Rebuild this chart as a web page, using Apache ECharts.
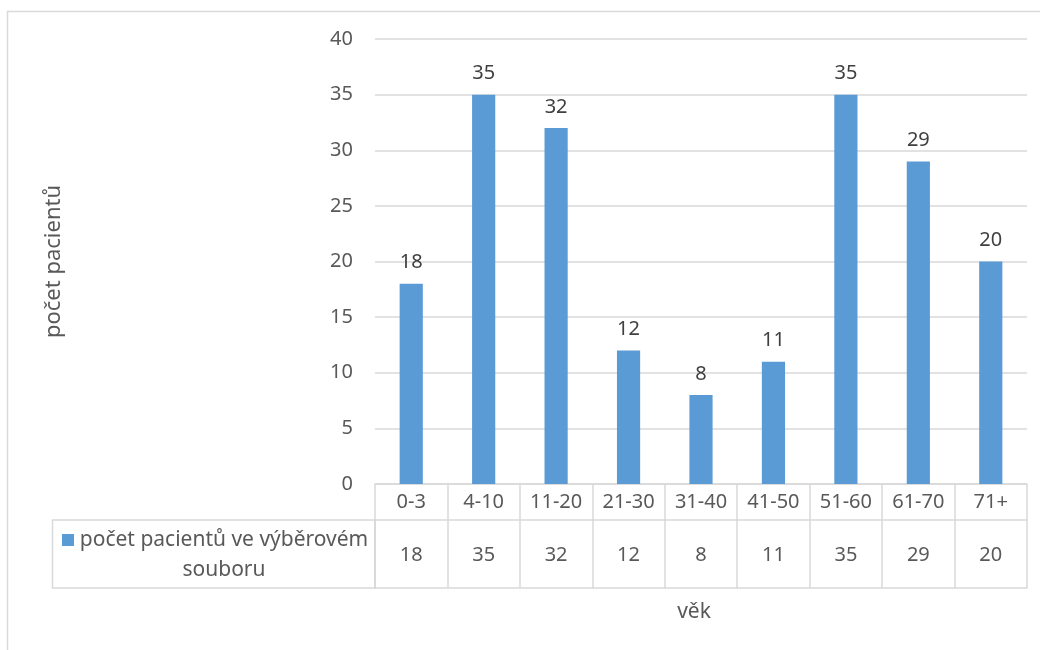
<!DOCTYPE html>
<html>
<head>
<meta charset="utf-8">
<script src="https://cdn.jsdelivr.net/npm/echarts@6/dist/echarts.min.js"></script>
<style>
  html, body { margin: 0; padding: 0; background: #fff; }
  #chart { width: 1040px; height: 650px; }
</style>
</head>
<body>
<div id="chart"></div>
<script>
var categories = ['0-3', '4-10', '11-20', '21-30', '31-40', '41-50', '51-60', '61-70', '71+'];
var counts = [18, 35, 32, 12, 8, 11, 35, 29, 20];
var seriesName = 'počet pacientů ve výběrovém souboru';
var yTicks = { min: 0, max: 40, step: 5 };

var font = 'Noto Sans';
var textColor = '#595959';
var lineColor = '#d9d9d9';
var barColor = '#5b9bd5';

var myChart = echarts.init(document.getElementById('chart'));
myChart.setOption({
    animation: false,
    grid: { left: 375, right: 13, top: 39, bottom: 166 },
    xAxis: [
        {
            // header row of the data table
            type: 'category',
            data: categories,
            axisLine: { lineStyle: { color: lineColor, width: 1.5 } },
            axisTick: { show: true, length: 104, interval: 0, lineStyle: { color: lineColor, width: 1.5 } },
            axisLabel: { interval: 0, margin: 18, verticalAlign: 'middle', color: textColor, fontFamily: font, fontSize: 20 }
        },
        {
            // value row of the data table
            type: 'category',
            data: categories,
            position: 'bottom',
            offset: 36,
            axisLine: { show: true, lineStyle: { color: lineColor, width: 1.5 } },
            axisTick: { show: false },
            axisLabel: {
                interval: 0, margin: 35, verticalAlign: 'middle', color: textColor, fontFamily: font, fontSize: 20,
                formatter: function (v, i) { return String(counts[i]); }
            }
        },
        {
            type: 'category',
            data: categories,
            position: 'bottom',
            offset: 104,
            name: 'věk',
            nameLocation: 'middle',
            nameGap: 14,
            nameTextStyle: { color: textColor, fontFamily: font, fontSize: 21, padding: [0, 14, 0, 0] },
            axisLine: { show: true, lineStyle: { color: lineColor, width: 1.5 } },
            axisTick: { show: false },
            axisLabel: { show: false }
        }
    ],
    yAxis: {
        type: 'value',
        min: yTicks.min,
        max: yTicks.max,
        interval: yTicks.step,
        name: 'počet pacientů',
        nameLocation: 'middle',
        nameGap: 310,
        nameTextStyle: { color: textColor, fontFamily: font, fontSize: 22 },
        axisLine: { show: false },
        axisTick: { show: false },
        axisLabel: { margin: 22, color: textColor, fontFamily: font, fontSize: 20 },
        splitLine: { lineStyle: { color: lineColor, width: 1.5 } }
    },
    series: [
        {
            name: seriesName,
            type: 'bar',
            xAxisIndex: 0,
            data: counts,
            barWidth: '32%',
            itemStyle: { color: barColor },
            label: { show: true, position: 'top', distance: 11, color: '#404040', fontFamily: font, fontSize: 20 }
        }
    ],
    graphic: [
        {
            type: 'rect',
            silent: true,
            shape: { x: 7.5, y: 11.5, width: 1100, height: 700 },
            style: { fill: null, stroke: lineColor, lineWidth: 1.5 }
        },
        {
            type: 'rect',
            silent: true,
            shape: { x: 52.5, y: 520, width: 322.5, height: 68 },
            style: { fill: null, stroke: lineColor, lineWidth: 1.5 }
        },
        {
            type: 'rect',
            silent: true,
            shape: { x: 62, y: 534, width: 12, height: 12 },
            style: { fill: barColor }
        },
        {
            type: 'text',
            silent: true,
            x: 224,
            y: 555,
            style: {
                text: 'počet pacientů ve výběrovém\nsouboru',
                align: 'center',
                verticalAlign: 'middle',
                lineHeight: 30,
                fill: textColor,
                font: '21px "Noto Sans"'
            }
        }
    ]
});
</script>
</body>
</html>
